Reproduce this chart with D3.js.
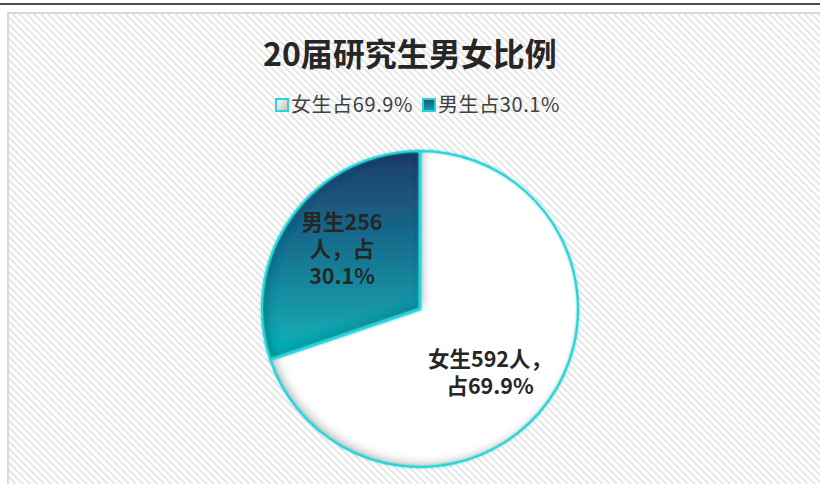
<!DOCTYPE html>
<html>
<head>
<meta charset="utf-8">
<script src="https://cdn.jsdelivr.net/npm/d3@7"></script>
<style>
  html, body { margin: 0; padding: 0; background: #ffffff; }
  svg { display: block; }
</style>
</head>
<body>
<script>
// Graduate class of 2020: gender breakdown
const title = "20届研究生男女比例";
const categories = ["女生", "男生"];
const counts = [592, 256];
const shares = [69.9, 30.1];
const legendLabels = ["女生占69.9%", "男生占30.1%"];
const sliceLabels = [["女生592人，", "占69.9%"], ["男生256", "人，占", "30.1%"]];

const W = 820, H = 484;
const svg = d3.select("body").append("svg").attr("width", W).attr("height", H);
const defs = svg.append("defs");

// diagonal hatch for the plot background
const hatch = defs.append("pattern")
  .attr("id", "hatch").attr("patternUnits", "userSpaceOnUse")
  .attr("width", 5).attr("height", 5)
  .attr("patternTransform", "rotate(45)");
hatch.append("rect").attr("width", 5).attr("height", 5).attr("fill", "#ffffff");
hatch.append("rect").attr("width", 5).attr("height", 2).attr("fill", "#e6e6e6");

// legend swatch gradients
const gLegF = defs.append("linearGradient").attr("id", "gLegF").attr("x1", 0).attr("y1", 0).attr("x2", 1).attr("y2", 1);
gLegF.append("stop").attr("offset", "0%").attr("stop-color", "#ffffff");
gLegF.append("stop").attr("offset", "100%").attr("stop-color", "#bdbdbd");
const gLegM = defs.append("linearGradient").attr("id", "gLegM").attr("x1", 0).attr("y1", 0).attr("x2", 0).attr("y2", 1);
gLegM.append("stop").attr("offset", "0%").attr("stop-color", "#1f4f74");
gLegM.append("stop").attr("offset", "100%").attr("stop-color", "#10a3aa");

// inner shadow for slices
const inner = defs.append("filter").attr("id", "innerShadow")
  .attr("x", "-10%").attr("y", "-10%").attr("width", "120%").attr("height", "120%");
inner.append("feOffset").attr("in", "SourceAlpha").attr("dx", 4).attr("dy", -4).attr("result", "off");
inner.append("feGaussianBlur").attr("in", "off").attr("stdDeviation", 4).attr("result", "blur");
inner.append("feComposite").attr("in", "SourceAlpha").attr("in2", "blur").attr("operator", "out").attr("result", "inv");
inner.append("feFlood").attr("flood-color", "#000").attr("flood-opacity", 0.45).attr("result", "col");
inner.append("feComposite").attr("in", "col").attr("in2", "inv").attr("operator", "in").attr("result", "shadow");
const im = inner.append("feMerge");
im.append("feMergeNode").attr("in", "SourceGraphic");
im.append("feMergeNode").attr("in", "shadow");

// soft cyan glow for outlines
const glow = defs.append("filter").attr("id", "glow")
  .attr("x", "-10%").attr("y", "-10%").attr("width", "120%").attr("height", "120%");
glow.append("feGaussianBlur").attr("in", "SourceGraphic").attr("stdDeviation", 1.2).attr("result", "b");
const gm = glow.append("feMerge");
gm.append("feMergeNode").attr("in", "b");
gm.append("feMergeNode").attr("in", "SourceGraphic");

// top rule and chart frame
svg.append("rect").attr("x", 0).attr("y", 3).attr("width", W).attr("height", 2).attr("fill", "#4d4d4d");
svg.append("rect").attr("x", 8).attr("y", 13).attr("width", W + 10).attr("height", H)
  .attr("fill", "url(#hatch)").attr("stroke", "#d9d9d9").attr("stroke-width", 2);

const font = "'Noto Sans CJK SC', 'Noto Sans', sans-serif";

// title
svg.append("text").attr("x", 410).attr("y", 66)
  .attr("text-anchor", "middle")
  .attr("font-family", font).attr("font-weight", "bold").attr("font-size", 32)
  .attr("fill", "#262626").text(title);

// legend
const legFills = ["url(#gLegF)", "url(#gLegM)"];
const legX = [276, 423];
const legend = svg.append("g").attr("font-family", font).attr("font-size", 20)
  .attr("letter-spacing", 0.6).attr("fill", "#404040");
legendLabels.forEach((lab, i) => {
  legend.append("rect").attr("x", legX[i]).attr("y", 99).attr("width", 12).attr("height", 12)
    .attr("fill", legFills[i]).attr("stroke", "#2ad3d8").attr("stroke-width", 2);
  legend.append("text").attr("x", legX[i] + 15).attr("y", 112).text(lab);
});

// pie
const cx = 420, cy = 309, r = 158;
const pie = d3.pie().sort(null).value(d => d);
const arcs = pie(counts);
const arc = d3.arc().innerRadius(0).outerRadius(r);
const g = svg.append("g").attr("transform", `translate(${cx},${cy})`);

// male slice gradient, in pie-local coordinates
const gMale = defs.append("linearGradient").attr("id", "gMale")
  .attr("gradientUnits", "userSpaceOnUse")
  .attr("x1", 0).attr("y1", -r).attr("x2", 0).attr("y2", 50);
gMale.append("stop").attr("offset", "0%").attr("stop-color", "#1f3a68");
gMale.append("stop").attr("offset", "40%").attr("stop-color", "#18698a");
gMale.append("stop").attr("offset", "100%").attr("stop-color", "#10b4b9");
const fills = ["#ffffff", "url(#gMale)"];

g.selectAll("path.slice").data(arcs).join("path")
  .attr("class", "slice")
  .attr("d", arc)
  .attr("fill", (d, i) => fills[i])
  .attr("filter", "url(#innerShadow)");

// outlines
g.selectAll("path.outline").data(arcs).join("path")
  .attr("class", "outline")
  .attr("d", arc)
  .attr("fill", "none")
  .attr("stroke", "#2ad3d8").attr("stroke-width", 2)
  .attr("stroke-linejoin", "round")
  .attr("filter", "url(#glow)");

// slice labels, one text per line
const labelPos = [[70, 58], [-78, -79]];
const lineH = 27;
arcs.forEach((d, i) => {
  sliceLabels[i].forEach((ln, k) => {
    g.append("text")
      .attr("x", labelPos[i][0]).attr("y", labelPos[i][1] + k * lineH)
      .attr("text-anchor", "middle")
      .attr("font-family", font).attr("font-weight", "bold").attr("font-size", 21.5)
      .attr("fill", "#262626")
      .text(ln);
  });
});
</script>
</body>
</html>
